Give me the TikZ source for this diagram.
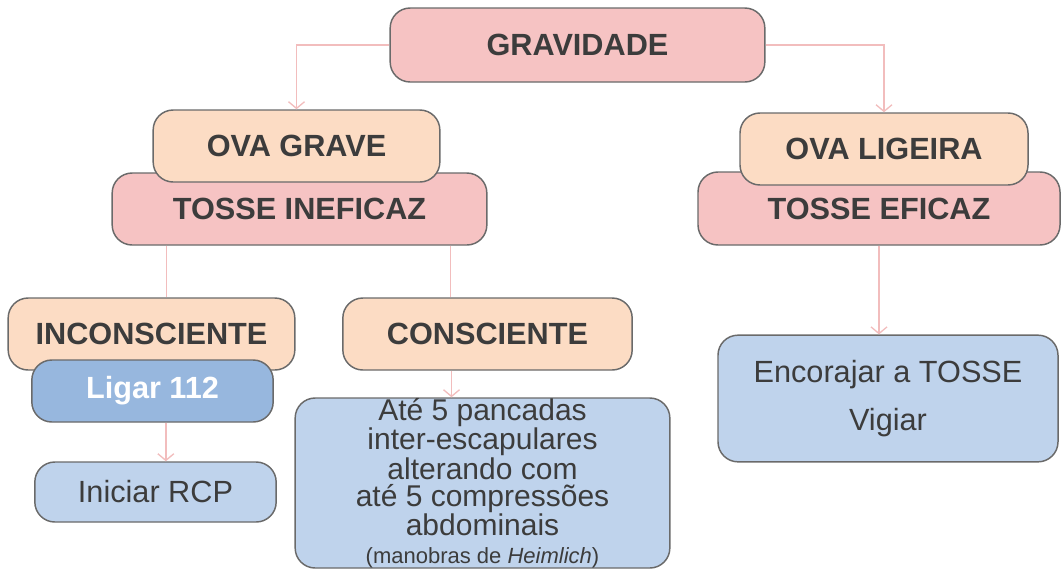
\documentclass[tikz,border=0pt]{standalone}
\usepackage{fontspec}
\setmainfont{Liberation Sans}
\usetikzlibrary{positioning,arrows.meta}
\definecolor{rosa}{HTML}{F6C3C3}
\definecolor{pessego}{HTML}{FCDCC4}
\definecolor{azul}{HTML}{BFD3EC}
\definecolor{azulesc}{HTML}{97B7DE}
\definecolor{linha}{HTML}{F2BDBD}
\definecolor{borda}{HTML}{6A6A6A}
\definecolor{texto}{HTML}{3C3C3C}
\tikzset{
  caixa/.style={draw=borda,line width=1.1pt,rounded corners=15pt,align=center,
    inner sep=0pt,text=texto,font=\fontsize{23}{19}\selectfont},
  forte/.style={caixa,font=\bfseries\fontsize{23}{19}\selectfont},
  ligacao/.style={draw=linha,line width=1pt},
  seta/.style={ligacao,-{Straight Barb[length=5pt,width=12pt]}}
}
\begin{document}
\begin{tikzpicture}[x=0.75pt,y=-0.75pt]
\useasboundingbox (0,0) rectangle (1062,569);
\node(grav) at (577.5,45)[forte,fill=rosa,minimum width=281pt,minimum height=55.5pt] {GRAVIDADE};
\node(tosseinef) at (299.5,209)[forte,fill=rosa,minimum width=281pt,minimum height=54pt] {TOSSE INEFICAZ};
\node(ovagrave) at (296.5,146)[forte,fill=pessego,minimum width=215pt,minimum height=54pt] {OVA GRAVE};
\node(tosseef) at (879,208.5)[forte,fill=rosa,minimum width=271.5pt,minimum height=54.75pt] {TOSSE EFICAZ};
\node(ovalig) at (884,149)[forte,fill=pessego,minimum width=216pt,minimum height=54pt] {OVA LIGEIRA};
\node(incons) at (151.5,334)[forte,fill=pessego,minimum width=215pt,minimum height=54pt] {INCONSCIENTE};
\node(ligar) at (152.5,391)[forte,fill=azulesc,text=white,minimum width=181pt,minimum height=46.5pt] {Ligar 112};
\node(iniciar) at (155.5,492)[caixa,fill=azul,minimum width=181pt,minimum height=45pt] {Iniciar RCP};
\node(consc) at (487.5,334)[forte,fill=pessego,minimum width=217pt,minimum height=54pt] {CONSCIENTE};
\node(ate) at (482.5,483)[caixa,fill=azul,minimum width=281pt,minimum height=127.5pt,
  font=\fontsize{22.5}{20.5}\selectfont]
  {Até 5 pancadas\\inter-escapulares\\alterando com\\até 5 compressões\\abdominais\\
   {\fontsize{16.5}{19}\selectfont(manobras de \textit{Heimlich})}};
\node(encor) at (888,398.5)[caixa,fill=azul,minimum width=255pt,minimum height=95pt,
  font=\fontsize{23}{36}\selectfont] {Encorajar a TOSSE\\Vigiar};
% ligacoes
\draw[seta] (grav.west) -| (ovagrave.north);
\draw[seta] (grav.east) -| (ovalig.north);
\draw[ligacao] ([xshift=11pt]incons.north |- tosseinef.south) -- ([xshift=11pt]incons.north);
\draw[ligacao] ([xshift=-28pt]consc.north |- tosseinef.south) -- ([xshift=-28pt]consc.north);
\draw[seta] ([xshift=10pt]ligar.south) -- ([xshift=10pt]ligar.south |- iniciar.north);
\draw[seta] ([xshift=-27pt]consc.south) -- ([xshift=-27pt]consc.south |- ate.north);
\draw[seta] (tosseef.south) -- (tosseef.south |- encor.north);
\end{tikzpicture}
\end{document}
